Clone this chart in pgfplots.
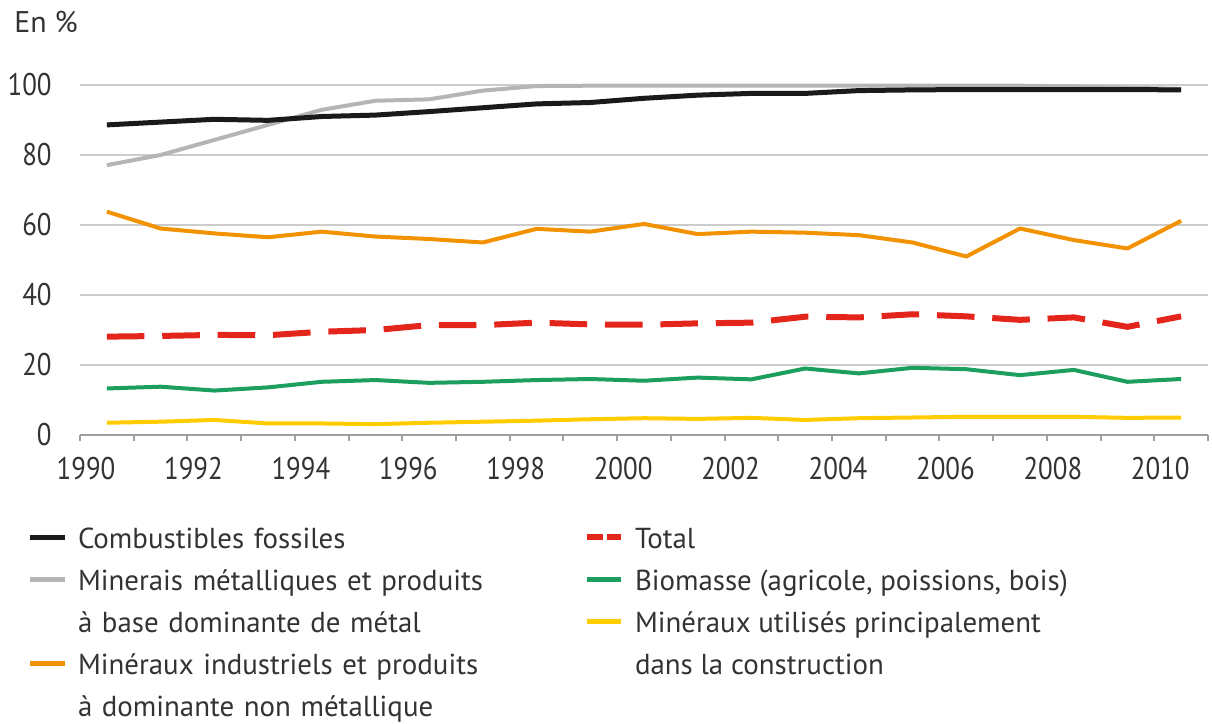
\documentclass[border=0pt]{standalone}
\usepackage{fontspec}
\setmainfont{PT Sans}
\newfontfamily\tickfont[FakeStretch=0.86]{PT Sans}
\usepackage{pgfplots}
\usepackage{pgfplotstable}
\pgfplotsset{compat=1.18}

\definecolor{cfossil}{HTML}{1A1A1A}
\definecolor{cmetal}{HTML}{B5B5B5}
\definecolor{cindus}{HTML}{F39200}
\definecolor{ctotal}{HTML}{E3251B}
\definecolor{cbio}{HTML}{1B9E5E}
\definecolor{cconstr}{HTML}{FFCC00}
\definecolor{cgrid}{HTML}{CCCCCC}

% parts of domestic material consumption, in %
\pgfplotstableread{
year   fossil metal indus total bio  constr
1990.5 88.6   77.1  63.8  28.1  13.3 3.5
1991.5 89.4   80.0  59.0  28.3  13.8 3.8
1992.5 90.2   84.3  57.6  28.6  12.7 4.3
1993.5 89.9   88.6  56.5  28.5  13.6 3.3
1994.5 91.0   92.9  58.1  29.5  15.2 3.3
1995.5 91.4   95.5  56.7  30.0  15.7 3.1
1996.5 92.4   95.9  56.0  31.4  14.9 3.5
1997.5 93.5   98.4  55.0  31.4  15.2 3.8
1998.5 94.6   99.7  58.9  32.1  15.7 4.1
1999.5 95.0   99.8  58.1  31.6  16.0 4.5
2000.5 96.2   99.8  60.3  31.5  15.5 4.8
2001.5 97.1   99.8  57.4  31.9  16.4 4.6
2002.5 97.6   99.8  58.1  32.1  15.9 4.9
2003.5 97.6   99.8  57.8  33.8  19.0 4.3
2004.5 98.4   99.8  57.1  33.6  17.6 4.8
2005.5 98.6   99.8  55.0  34.5  19.2 5.0
2006.5 98.7   99.8  51.0  33.9  18.8 5.2
2007.5 98.7   99.8  59.0  32.9  17.1 5.2
2008.5 98.7   99.6  55.7  33.6  18.6 5.2
2009.5 98.7   99.2  53.3  30.9  15.2 4.9
2010.5 98.6   98.9  61.2  33.9  16.0 5.0
}\data

\begin{document}
\begin{tikzpicture}
\begin{axis}[
  scale only axis,
  width=564bp, height=175bp,
  xmin=1990, xmax=2011,
  ymin=0, ymax=100,
  clip=false,
  axis x line*=bottom,
  axis y line*=left,
  y axis line style={draw=none},
  x axis line style={gray!75, line width=1bp},
  xtick={1990,1992,...,2010},
  minor xtick={1991,1993,...,2011},
  ytick={0,20,...,100},
  tick align=outside,
  major tick length=3bp,
  minor tick length=3bp,
  x tick style={gray!75, line width=1bp},
  minor x tick style={gray!75, line width=1bp},
  y tick style={draw=none},
  ymajorgrids,
  grid style={cgrid, line width=1bp},
  /pgf/number format/1000 sep={},
  /pgf/number format/assume math mode=true,
  tick label style={font=\tickfont\fontsize{15.7}{18}\selectfont, text=black!80},
  xticklabel style={inner sep=0pt, yshift=-8bp, xshift=3bp},
  yticklabel style={inner sep=0pt, xshift=-11bp},
  legend columns=2,
  legend image code/.code={\draw[#1] (0bp,0bp) -- (17bp,0bp);},
  legend style={
    at={(0,0)}, anchor=north west,
    xshift=-26bp, yshift=-40.5bp,
    draw=none, fill=none,
    inner sep=0pt, outer sep=0pt,
    row sep=0pt,
    font=\fontsize{14.5}{21}\selectfont,
    text=black!80,
    cells={anchor=west},
    nodes={inner sep=0pt, text height=16.25bp, text depth=4.75bp},
    /tikz/column 1/.style={column sep=5.5bp},
    /tikz/column 2/.style={nodes={text width=253bp}},
    /tikz/column 3/.style={column sep=5.5bp},
  },
]
\addplot[cconstr, line width=2bp, line join=round, forget plot] table[x=year, y=constr] {\data};
\addplot[cbio, line width=2bp, line join=round, forget plot] table[x=year, y=bio] {\data};
\addplot[ctotal, line width=3bp, dash pattern=on 18.8bp off 8.9bp, forget plot] table[x=year, y=total] {\data};
\addplot[cindus, line width=2bp, line join=round, forget plot] table[x=year, y=indus] {\data};
\addplot[cmetal, line width=2bp, line join=round, forget plot] table[x=year, y=metal] {\data};
\addplot[cfossil, line width=2.5bp, line join=round, forget plot] table[x=year, y=fossil] {\data};

\addlegendimage{cfossil, line width=2.5bp}
\addlegendentry{Combustibles fossiles}
\addlegendimage{ctotal, line width=3bp, dash pattern=on 8bp off 2bp}
\addlegendentry{Total}
\addlegendimage{cmetal, line width=2.5bp}
\addlegendentry{Minerais métalliques et produits}
\addlegendimage{cbio, line width=2.5bp}
\addlegendentry{Biomasse (agricole, poissions, bois)}
\addlegendimage{legend image code/.code={}}
\addlegendentry{à base dominante de métal}
\addlegendimage{cconstr, line width=2.5bp}
\addlegendentry{Minéraux utilisés principalement}
\addlegendimage{cindus, line width=2.5bp}
\addlegendentry{Minéraux industriels et produits}
\addlegendimage{legend image code/.code={}}
\addlegendentry{dans la construction}
\addlegendimage{legend image code/.code={}}
\addlegendentry{à dominante non métallique}

\node[anchor=base west, inner sep=0pt, font=\fontsize{15}{18}\selectfont, text=black!80]
  at ([shift={(-33bp,26.3bp)}]rel axis cs:0,1) {En \%};
\coordinate (bl) at (rel axis cs:0,0);
\coordinate (tr) at (rel axis cs:1,1);
\end{axis}
\pgfresetboundingbox
\path[use as bounding box] ([shift={(-40bp,-144.5bp)}]bl) rectangle ([shift={(2bp,42.5bp)}]tr);
\end{tikzpicture}
\end{document}
